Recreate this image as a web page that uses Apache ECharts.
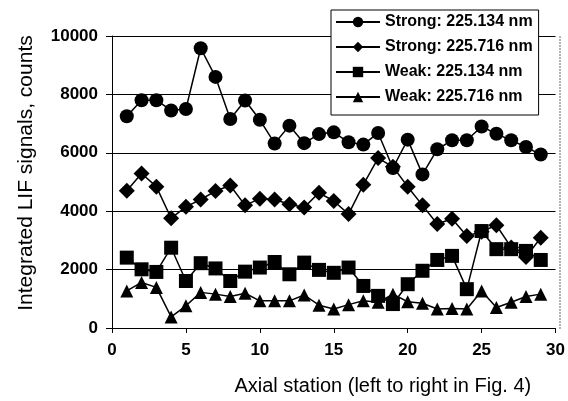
<!DOCTYPE html>
<html><head><meta charset="utf-8">
<script src="https://cdn.jsdelivr.net/npm/echarts@6/dist/echarts.min.js"></script>
<style>html,body{margin:0;padding:0;background:#fff}#c{width:568px;height:401px}</style>
</head><body><div id="c"></div>
<script>
const stations = [1,2,3,4,5,6,7,8,9,10,11,12,13,14,15,16,17,18,19,20,21,22,23,24,25,26,27,28,29];
const strong134 = [7250,7800,7800,7450,7500,9580,8600,7160,7790,7130,6320,6930,6330,6640,6700,6360,6280,6680,5480,6450,5260,6120,6430,6430,6900,6650,6430,6200,5940];
const strong716 = [4700,5290,4840,3760,4150,4400,4690,4880,4200,4430,4400,4240,4130,4630,4350,3900,4910,5820,5520,4840,4200,3560,3740,3150,3300,3520,2760,2430,3090];
const weak134 = [2410,2010,1920,2750,1610,2220,2040,1610,1930,2070,2260,1840,2240,1990,1890,2070,1440,1100,820,1500,1960,2330,2470,1330,3320,2700,2700,2640,2330];
const weak716 = [1270,1560,1390,380,760,1220,1160,1080,1190,930,930,930,1130,780,650,800,930,880,1160,900,850,650,670,650,1270,700,880,1080,1160];
const seriesNames = ['Strong: 225.134 nm','Strong: 225.716 nm','Weak: 225.134 nm','Weak: 225.716 nm'];
const xTicks = [0,5,10,15,20,25,30];
const yTicks = [0,2000,4000,6000,8000,10000];

const pair = arr => stations.map((s,i)=>[s,arr[i]]);
const font = 'Arial, "Liberation Sans", sans-serif';
function mk(name, data, symbol, size){
  return {name, type:'line', data:pair(data), symbol, symbolSize:size,
    lineStyle:{color:'#000',width:1.5}, itemStyle:{color:'#000'}, emphasis:{disabled:true}, animation:false};
}
const chart = echarts.init(document.getElementById('c'));
chart.setOption({
  animation:false,
  grid:{left:112,right:8,top:36,bottom:72},
  legend:{orient:'vertical', left:331, top:10,
    backgroundColor:'#fff', borderColor:'#000', borderWidth:1, borderRadius:0,
    padding:[4,6,10,4], itemWidth:44, itemHeight:13, itemGap:9,
    textStyle:{fontFamily:font,fontSize:16,fontWeight:'bold',color:'#000'},
    data:seriesNames},
  xAxis:{type:'value', min:xTicks[0], max:xTicks[xTicks.length-1], interval:5,
    axisLine:{lineStyle:{color:'#000',width:1}},
    axisTick:{show:true,length:5,lineStyle:{color:'#000'}},
    axisLabel:{fontFamily:font,fontSize:17,fontWeight:'bold',color:'#000',margin:14},
    splitLine:{show:false},
    name:'Axial station (left to right in Fig. 4)', nameLocation:'middle', nameGap:48,
    nameTextStyle:{fontFamily:font,fontSize:20,color:'#000',padding:[0,0,0,98]}},
  yAxis:{type:'value', min:yTicks[0], max:yTicks[yTicks.length-1], interval:2000,
    axisLine:{show:true,lineStyle:{color:'#000',width:1}},
    axisTick:{show:true,inside:false,length:6,lineStyle:{color:'#000'}},
    axisLabel:{fontFamily:font,fontSize:17,fontWeight:'bold',color:'#000',margin:14,
      formatter: v => String(v)},
    splitLine:{show:true,lineStyle:{color:'#000',width:1}},
    name:'Integrated LIF signals, counts', nameLocation:'middle', nameGap:75,
    nameTextStyle:{fontFamily:font,fontSize:21,color:'#000',padding:[0,0,0,18]}},
  series:[
    mk(seriesNames[0], strong134, 'circle', 14),
    mk(seriesNames[1], strong716, 'diamond', 16),
    mk(seriesNames[2], weak134, 'rect', 14),
    mk(seriesNames[3], weak716, 'triangle', 13)
  ],
  graphic:[{type:'line', z:-1, shape:{x1:560,y1:36,x2:560,y2:329}, style:{stroke:'#666',lineWidth:1,lineDash:[2,1]}}]
});
</script></body></html>
